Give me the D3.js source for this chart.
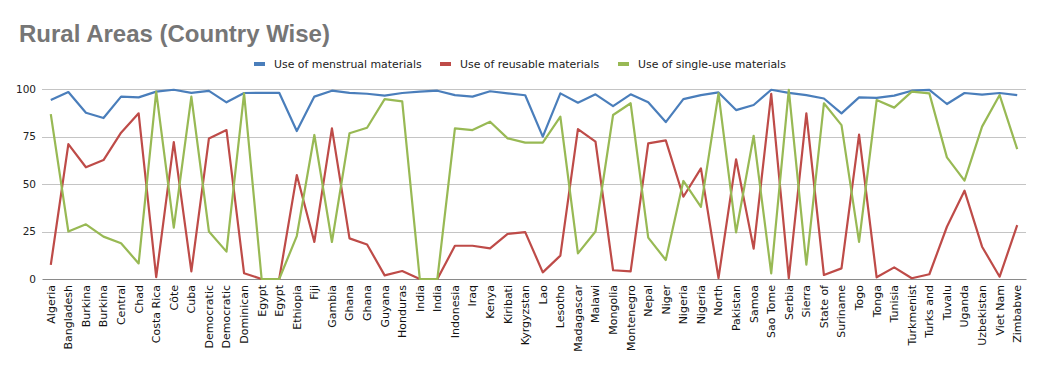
<!DOCTYPE html>
<html lang="en">
<head>
    <meta charset="UTF-8">
    <title>Rural Areas (Country Wise)</title>
    <script src="https://d3js.org/d3.v7.min.js"></script>
    <style>
        body { margin: 0; background: #fff; }
    </style>
</head>
<body>

    <svg id="chart" width="1044" height="371"></svg>

    <script>
        // Data
        const countries = ["Algeria", "Bangladesh", "Burkina", "Burkina", "Central", "Chad", "Costa Rica", "Côte", "Cuba",
            "Democratic", "Democratic", "Dominican", "Egypt", "Egypt", "Ethiopia", "Fiji", "Gambia", "Ghana", "Ghana",
            "Guyana", "Honduras", "India", "India", "Indonesia", "Iraq", "Kenya", "Kiribati", "Kyrgyzstan", "Lao",
            "Lesotho", "Madagascar", "Malawi", "Mongolia", "Montenegro", "Nepal", "Niger", "Nigeria", "Nigeria", "North",
            "Pakistan", "Samoa", "Sao Tome", "Serbia", "Sierra", "State of", "Suriname", "Togo", "Tonga", "Tunisia",
            "Turkmenist", "Turks and", "Tuvalu", "Uganda", "Uzbekistan", "Viet Nam", "Zimbabwe"];

        const menstrual = [94.2, 98.4, 87.5, 84.7, 96, 95.6, 98.6, 99.6, 98, 99, 93, 97.9, 98, 98,
            77.9, 96, 99.1, 98, 97.5, 96.5, 97.9, 98.6, 99.1, 96.8, 96, 98.8, 97.7, 96.7,
            74.9, 97.7, 92.8, 97.2, 91, 97.2, 93, 82.6, 94.7, 96.8, 98.2, 88.9, 91.6, 99.6,
            98, 96.8, 95, 87.2, 95.6, 95.3, 96.5, 99.1, 99.5, 92.1, 97.9, 97, 97.9, 96.8];

        const reusable = [7.4, 71, 58.8, 62.6, 77, 87.2, 1, 72, 4, 74, 78.4, 3, 0, 0,
            54.7, 19.5, 79.3, 21.4, 18.2, 1.9, 4.2, 0, 0, 17.5, 17.5, 16.1, 23.7, 24.7,
            3.5, 12.3, 78.9, 72.3, 4.6, 4, 71.4, 73, 43.3, 58.2, 0.5, 63, 16, 97.5,
            0.5, 87.2, 2.1, 5.6, 76, 0.9, 6.1, 0.4, 2.5, 27.5, 46.5, 17, 1.2, 28.4];

        const singleUse = [86.8, 25, 28.8, 22.3, 18.8, 8.2, 98.6, 27, 96, 25, 14.4, 97.7, 0, 0,
            22.6, 75.8, 19.5, 76.7, 79.6, 94.7, 93.5, 0, 0, 79.3, 78.4, 82.8, 74, 71.8,
            71.8, 85.4, 13.5, 25, 86.3, 92.5, 21.8, 10, 51.6, 38, 97.7, 24.5, 75.4, 3,
            99.5, 7.5, 92.5, 81, 19.5, 94.2, 90.2, 98.6, 97.7, 64, 51.8, 80.2, 96.8, 68.4];

        const seriesNames = ["Use of menstrual materials", "Use of reusable materials", "Use of single-use materials"];
        const seriesColors = ["#4A7EBB", "#BE4B48", "#98B954"];
        const yTicks = [0, 25, 50, 75, 100];

        const svg = d3.select("#chart");
        const plotLeft = 42, plotRight = 1026, plotTop = 89, plotBottom = 279;

        // Title
        svg.append("text")
            .attr("x", 19)
            .attr("y", 42)
            .style("font-family", "Liberation Sans, Arial, sans-serif")
            .style("font-size", "24px")
            .style("font-weight", "bold")
            .style("fill", "#767676")
            .text("Rural Areas (Country Wise)");

        const x = d3.scaleBand()
            .domain(d3.range(countries.length))
            .range([plotLeft, plotRight]);

        const y = d3.scaleLinear()
            .domain([0, 100])
            .range([plotBottom, plotTop]);

        // Gridlines
        svg.append("g")
            .selectAll("line")
            .data(yTicks.filter(d => d > 0))
            .join("line")
            .attr("x1", plotLeft)
            .attr("x2", plotRight)
            .attr("y1", d => Math.round(y(d)) + 0.5)
            .attr("y2", d => Math.round(y(d)) + 0.5)
            .attr("stroke", "#c4c4c4")
            .attr("stroke-width", 1);

        // Y axis labels
        const yAxis = d3.axisLeft(y).tickValues(yTicks).tickSize(0).tickPadding(6);
        const gy = svg.append("g")
            .attr("transform", `translate(${plotLeft},0)`)
            .call(yAxis);
        gy.select(".domain").remove();
        gy.selectAll("text")
            .style("font-family", "DejaVu Sans, sans-serif")
            .style("font-size", "10.5px")
            .style("fill", "#222");

        // X axis
        const xAxis = d3.axisBottom(x).tickFormat(i => countries[i]).tickSize(0).tickPadding(0);
        const gx = svg.append("g")
            .attr("transform", `translate(0,${plotBottom})`)
            .call(xAxis);
        gx.select(".domain")
            .attr("stroke", "#8a8a8a")
            .attr("stroke-width", 1.2);
        gx.selectAll("text")
            .attr("transform", "rotate(-90)")
            .attr("x", -6)
            .attr("y", 0)
            .attr("dy", "0.35em")
            .style("text-anchor", "end")
            .style("font-family", "DejaVu Sans, sans-serif")
            .style("font-size", "11px")
            .style("fill", "#111");

        // Lines
        const line = d3.line()
            .x((d, i) => x(i) + x.bandwidth() / 2)
            .y(d => y(d));

        [menstrual, reusable, singleUse].forEach((values, k) => {
            svg.append("path")
                .datum(values)
                .attr("fill", "none")
                .attr("stroke", seriesColors[k])
                .attr("stroke-width", 2.2)
                .attr("stroke-linejoin", "round")
                .attr("d", line);
        });

        // Legend
        const legendX = [254, 440, 618];
        const legend = svg.append("g").selectAll("g")
            .data(seriesNames)
            .join("g")
            .attr("transform", (d, i) => `translate(${legendX[i]},64)`);
        legend.append("rect")
            .attr("x", 0)
            .attr("y", -2)
            .attr("width", 11)
            .attr("height", 4)
            .attr("fill", (d, i) => seriesColors[i]);
        legend.append("text")
            .attr("x", 20)
            .attr("y", 0)
            .attr("dy", "0.35em")
            .style("font-family", "DejaVu Sans, sans-serif")
            .style("font-size", "10.9px")
            .style("fill", "#222")
            .text(d => d);
    </script>

</body>
</html>
